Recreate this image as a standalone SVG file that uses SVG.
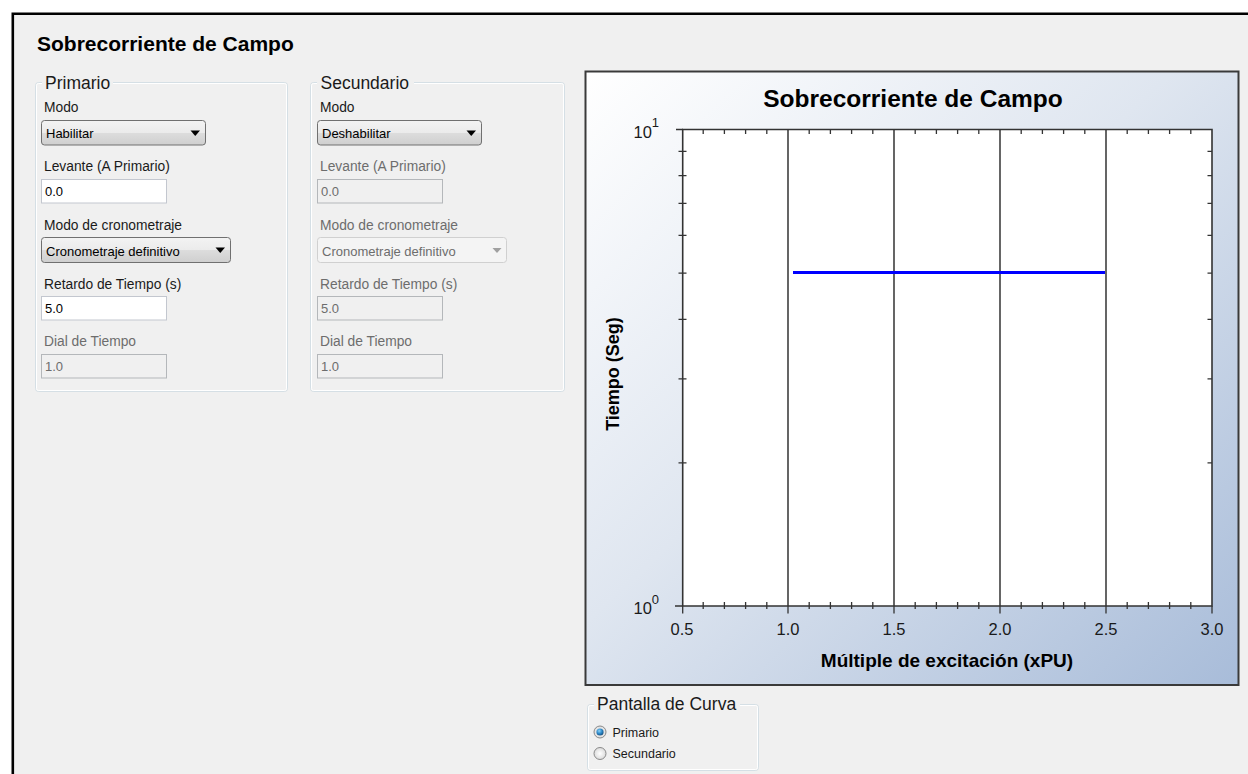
<svg xmlns="http://www.w3.org/2000/svg" width="1248" height="774" viewBox="0 0 1248 774">
  <defs>
    <linearGradient id="chartBg" x1="0" y1="0" x2="1" y2="1">
      <stop offset="0" stop-color="#ffffff"/>
      <stop offset="0.45" stop-color="#dfe6f0"/>
      <stop offset="1" stop-color="#a8bcd9"/>
    </linearGradient>
    <linearGradient id="btnGrad" x1="0" y1="0" x2="0" y2="1">
      <stop offset="0" stop-color="#f3f3f3"/>
      <stop offset="0.5" stop-color="#ebebeb"/>
      <stop offset="0.5" stop-color="#dddddd"/>
      <stop offset="1" stop-color="#cfcfcf"/>
    </linearGradient>
    <radialGradient id="radioOff" cx="0.5" cy="0.5" r="0.6">
      <stop offset="0" stop-color="#ffffff"/>
      <stop offset="1" stop-color="#d4d4d4"/>
    </radialGradient>
    <radialGradient id="radioDot" cx="0.4" cy="0.35" r="0.7">
      <stop offset="0" stop-color="#8fd3f5"/>
      <stop offset="0.5" stop-color="#2f8ccd"/>
      <stop offset="1" stop-color="#144a78"/>
    </radialGradient>
    <style>
      .ui { font-family: "Liberation Sans", Arial, sans-serif; }
      .lbl { font-family: "Liberation Sans", Arial, sans-serif; font-size: 13.8px; fill: #1a1a1a; }
      .gtitle { font-family: "Liberation Sans", Arial, sans-serif; font-size: 17.5px; fill: #1a1a1a; }
      .val { font-family: "Liberation Sans", Arial, sans-serif; font-size: 13px; fill: #000000; }
      .dis, .val.dis, .lbl.dis { fill: #6d6d6d; }
      .gbox { fill: none; stroke: #d5dfe5; stroke-width: 1; }
      .gboxw { fill: none; stroke: #ffffff; stroke-width: 1; }
      .combo { fill: url(#btnGrad); stroke: #707070; stroke-width: 1; }
      .combod { fill: #f4f4f4; stroke: #d0d0d0; stroke-width: 1; }
      .tb { fill: #ffffff; stroke: #c3c7cf; stroke-width: 1; }
      .tbd { fill: #f0f0f0; stroke: #b4b7ba; stroke-width: 1; }
      .axis { fill: none; stroke: #333333; stroke-width: 1.6; }
      .tick { fill: none; stroke: #333333; stroke-width: 1.3; }
      .grid { fill: none; stroke: #000000; stroke-width: 1.2; }
      .tl { font-family: "Liberation Sans", Arial, sans-serif; font-size: 16.5px; fill: #1a1a1a; }
      .bold { font-family: "Liberation Sans", Arial, sans-serif; font-weight: bold; fill: #000000; }
    </style>
  </defs>

  <!-- background and frame -->
  <g id="frame">
    <rect x="0" y="0" width="1248" height="774" fill="#ffffff"/>
    <rect x="13" y="14" width="1235" height="760" fill="#f0f0f0"/>
    <path d="M12.8 774 V13.8 H1248" fill="none" stroke="#000000" stroke-width="2.6"/>
  </g>

  <g id="main-title">
    <text class="bold" x="37" y="51" font-size="21">Sobrecorriente de Campo</text>
  </g>

  <!-- Primario group -->
  <g id="group-primario">
    <path class="gbox" d="M42 82.5 H38.5 Q35.5 82.5 35.5 85.5 V388.5 Q35.5 391.5 38.5 391.5 H284.5 Q287.5 391.5 287.5 388.5 V85.5 Q287.5 82.5 284.5 82.5 H113"/>
    <path class="gboxw" d="M42 83.5 H38.5 Q36.5 83.5 36.5 85.5 V388.5 Q36.5 390.5 38.5 390.5 H284.5 Q286.5 390.5 286.5 388.5 V85.5 Q286.5 83.5 284.5 83.5 H113"/>
    <text class="gtitle" x="45" y="89">Primario</text>

    <text class="lbl" x="44" y="111.5">Modo</text>
    <rect class="combo" x="41.5" y="120.5" width="164" height="24.5" rx="3"/>
    <text class="val" x="46" y="137.5">Habilitar</text>
    <path d="M190.5 130.5 H200 L195.25 136 Z" fill="#000000"/>

    <text class="lbl" x="44" y="171">Levante (A Primario)</text>
    <rect class="tb" x="41.5" y="179.5" width="125" height="23.5"/>
    <text class="val" x="45" y="196">0.0</text>

    <text class="lbl" x="44" y="230">Modo de cronometraje</text>
    <rect class="combo" x="41.5" y="237.5" width="189" height="25" rx="3"/>
    <text class="val" x="46" y="255.5">Cronometraje definitivo</text>
    <path d="M215.5 247.5 H225 L220.25 253 Z" fill="#000000"/>

    <text class="lbl" x="44" y="289">Retardo de Tiempo (s)</text>
    <rect class="tb" x="41.5" y="296.5" width="125" height="23.5"/>
    <text class="val" x="45" y="312.5">5.0</text>

    <text class="lbl dis" x="44" y="346">Dial de Tiempo</text>
    <rect class="tbd" x="41.5" y="354.5" width="125" height="23.5"/>
    <text class="val dis" x="45" y="370.5">1.0</text>
  </g>

  <!-- Secundario group -->
  <g id="group-secundario">
    <path class="gbox" d="M317 82.5 H313.5 Q310.5 82.5 310.5 85.5 V388.5 Q310.5 391.5 313.5 391.5 H561.5 Q564.5 391.5 564.5 388.5 V85.5 Q564.5 82.5 561.5 82.5 H414"/>
    <path class="gboxw" d="M317 83.5 H313.5 Q311.5 83.5 311.5 85.5 V388.5 Q311.5 390.5 313.5 390.5 H561.5 Q563.5 390.5 563.5 388.5 V85.5 Q563.5 83.5 561.5 83.5 H414"/>
    <text class="gtitle" x="320.5" y="89">Secundario</text>

    <text class="lbl" x="320" y="111.5">Modo</text>
    <rect class="combo" x="317.5" y="120.5" width="164" height="24.5" rx="3"/>
    <text class="val" x="322" y="137.5">Deshabilitar</text>
    <path d="M466.5 130.5 H476 L471.25 136 Z" fill="#000000"/>

    <text class="lbl dis" x="320" y="171">Levante (A Primario)</text>
    <rect class="tbd" x="317.5" y="179.5" width="125" height="23.5"/>
    <text class="val dis" x="321" y="196">0.0</text>

    <text class="lbl dis" x="320" y="230">Modo de cronometraje</text>
    <rect class="combod" x="317.5" y="237.5" width="189" height="25" rx="3"/>
    <text class="val dis" x="322" y="255.5">Cronometraje definitivo</text>
    <path d="M492.5 248 H501.5 L497 253 Z" fill="#a0a0a0"/>

    <text class="lbl dis" x="320" y="289">Retardo de Tiempo (s)</text>
    <rect class="tbd" x="317.5" y="296.5" width="125" height="23.5"/>
    <text class="val dis" x="321" y="312.5">5.0</text>

    <text class="lbl dis" x="320" y="346">Dial de Tiempo</text>
    <rect class="tbd" x="317.5" y="354.5" width="125" height="23.5"/>
    <text class="val dis" x="321" y="370.5">1.0</text>
  </g>

  <!-- Chart -->
  <g id="chart">
    <rect x="585.5" y="71.5" width="653" height="613.5" fill="url(#chartBg)" stroke="#3a3a3a" stroke-width="2"/>
    <text class="bold" x="913" y="106.5" font-size="24.5" text-anchor="middle">Sobrecorriente de Campo</text>

    <rect x="682.5" y="129.5" width="529.5" height="476.5" fill="#ffffff"/>
    <path class="grid" d="M788 129.5 V606 M894 129.5 V606 M1000 129.5 V606 M1106 129.5 V606"/>
    <path class="tick" d="M703.2 129.5 v4.5 M724.4 129.5 v4.5 M745.6 129.5 v4.5 M766.8 129.5 v4.5 M809.2 129.5 v4.5 M830.4 129.5 v4.5 M851.6 129.5 v4.5 M872.8 129.5 v4.5 M915.2 129.5 v4.5 M936.4 129.5 v4.5 M957.6 129.5 v4.5 M978.8 129.5 v4.5 M1021.2 129.5 v4.5 M1042.4 129.5 v4.5 M1063.6 129.5 v4.5 M1084.8 129.5 v4.5 M1127.2 129.5 v4.5 M1148.4 129.5 v4.5 M1169.6 129.5 v4.5 M1190.8 129.5 v4.5"/>
    <path class="tick" d="M703.2 602 v7 M724.4 602 v7 M745.6 602 v7 M766.8 602 v7 M809.2 602 v7 M830.4 602 v7 M851.6 602 v7 M872.8 602 v7 M915.2 602 v7 M936.4 602 v7 M957.6 602 v7 M978.8 602 v7 M1021.2 602 v7 M1042.4 602 v7 M1063.6 602 v7 M1084.8 602 v7 M1127.2 602 v7 M1148.4 602 v7 M1169.6 602 v7 M1190.8 602 v7"/>
    <path class="tick" d="M682.7 606 v7.5 M788 606 v7.5 M894 606 v7.5 M1000 606 v7.5 M1106 606 v7.5 M1212 606 v7.5"/>
    <path class="tick" d="M678.5 462.9 h8 M678.5 378.9 h8 M678.5 319.3 h8 M678.5 273.1 h8 M678.5 235.3 h8 M678.5 203.4 h8 M678.5 175.7 h8 M678.5 151.3 h8 M676 129.5 h7 M675 606 h8"/>
    <path class="tick" d="M1207.5 462.9 h4.5 M1207.5 378.9 h4.5 M1207.5 319.3 h4.5 M1207.5 273.1 h4.5 M1207.5 235.3 h4.5 M1207.5 203.4 h4.5 M1207.5 175.7 h4.5 M1207.5 151.3 h4.5"/>
    <path class="axis" d="M682.7 129.5 H1212 V606 H682.7 Z"/>
    <path d="M793 272.5 H1105" fill="none" stroke="#0000ff" stroke-width="3"/>

    <text class="tl" x="633.5" y="137.5">10<tspan font-size="13" dy="-11">1</tspan></text>
    <text class="tl" x="633.5" y="614.3">10<tspan font-size="13" dy="-10">0</tspan></text>
    <text class="tl" x="682" y="634.5" text-anchor="middle">0.5</text>
    <text class="tl" x="788" y="634.5" text-anchor="middle">1.0</text>
    <text class="tl" x="894" y="634.5" text-anchor="middle">1.5</text>
    <text class="tl" x="1000" y="634.5" text-anchor="middle">2.0</text>
    <text class="tl" x="1106" y="634.5" text-anchor="middle">2.5</text>
    <text class="tl" x="1212" y="634.5" text-anchor="middle">3.0</text>

    <text class="bold" x="947" y="667" font-size="19" text-anchor="middle">Múltiple de excitación (xPU)</text>
    <text class="bold" x="0" y="0" font-size="18" text-anchor="middle" transform="translate(619 374) rotate(-90)">Tiempo (Seg)</text>
  </g>

  <!-- Pantalla de Curva group -->
  <g id="group-pantalla">
    <path class="gbox" d="M594 704.5 H590.5 Q587.5 704.5 587.5 707.5 V767.5 Q587.5 770.5 590.5 770.5 H755.5 Q758.5 770.5 758.5 767.5 V707.5 Q758.5 704.5 755.5 704.5 H740"/>
    <path class="gboxw" d="M594 705.5 H590.5 Q588.5 705.5 588.5 707.5 V767.5 Q588.5 769.5 590.5 769.5 H755.5 Q757.5 769.5 757.5 767.5 V707.5 Q757.5 705.5 755.5 705.5 H740"/>
    <text class="gtitle" x="597" y="710">Pantalla de Curva</text>

    <circle cx="600" cy="732" r="6" fill="url(#radioOff)" stroke="#8a8a8a" stroke-width="1"/>
    <circle cx="600" cy="732" r="3.6" fill="url(#radioDot)"/>
    <text class="ui" x="612.5" y="736.5" font-size="12.5" fill="#1a1a1a">Primario</text>

    <circle cx="600" cy="753.5" r="6" fill="url(#radioOff)" stroke="#8a8a8a" stroke-width="1"/>
    <text class="ui" x="612.5" y="758" font-size="12.5" fill="#1a1a1a">Secundario</text>
  </g>
</svg>
